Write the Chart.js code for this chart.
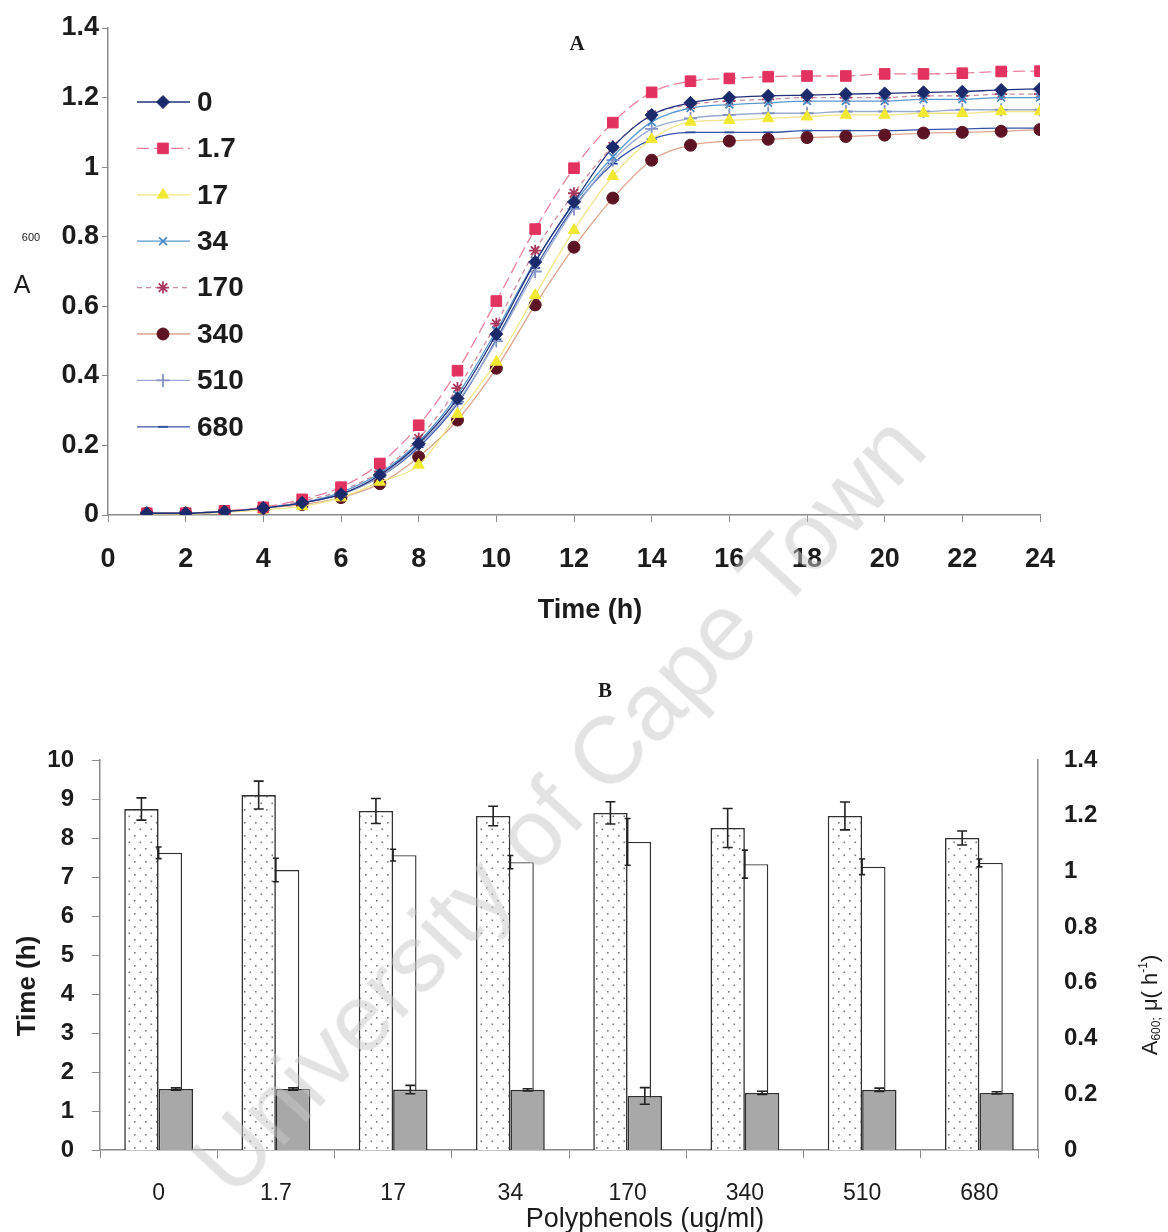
<!DOCTYPE html>
<html>
<head>
<meta charset="utf-8">
<script src="https://cdn.jsdelivr.net/npm/chart.js@4.4.1/dist/chart.umd.min.js"></script>
<style>
  html, body { margin: 0; padding: 0; background: #fff; }
  #wrap { position: relative; width: 1168px; height: 1232px; overflow: hidden; }
  #growth { position: absolute; left: 0; top: 0; }
  #params { position: absolute; left: 0; top: 650px; }
  #mark {
    position: absolute; left: 558px; top: 804px;
    transform: translate(-50%, -50%) rotate(-47deg);
    font: 95px "Liberation Sans", Arial, sans-serif;
    color: rgba(200, 200, 200, 0.5);
    white-space: nowrap; pointer-events: none;
  }
</style>
</head>
<body>
<div id="wrap">
  <canvas id="growth" width="1168" height="650" style="width:1168px;height:650px"></canvas>
  <canvas id="params" width="1168" height="582" style="width:1168px;height:582px"></canvas>
  <div id="mark">University of Cape Town</div>
</div>
<script>
// ---- growth curves (A600 per hour) ----
const hours = [1, 2, 3, 4, 5, 6, 7, 8, 9, 10, 11, 12, 13, 14, 15, 16, 17, 18, 19, 20, 21, 22, 23, 24];
const concentrations = ['0', '1.7', '17', '34', '170', '340', '510', '680'];

const od0   = [0.005, 0.005, 0.01, 0.02, 0.035, 0.06, 0.115, 0.205, 0.335, 0.52, 0.727, 0.90, 1.057, 1.15, 1.185, 1.20, 1.205, 1.207, 1.21, 1.212, 1.215, 1.217, 1.222, 1.225];
const od1_7 = [0.005, 0.005, 0.012, 0.022, 0.045, 0.08, 0.148, 0.258, 0.415, 0.615, 0.822, 0.997, 1.128, 1.215, 1.247, 1.255, 1.26, 1.262, 1.262, 1.268, 1.268, 1.27, 1.275, 1.276];
const od17  = [0.003, 0.003, 0.008, 0.015, 0.025, 0.05, 0.095, 0.144, 0.29, 0.44, 0.632, 0.819, 0.974, 1.08, 1.13, 1.135, 1.14, 1.145, 1.15, 1.15, 1.155, 1.155, 1.16, 1.16];
const od34  = [0.005, 0.005, 0.01, 0.02, 0.035, 0.065, 0.12, 0.21, 0.345, 0.53, 0.73, 0.895, 1.03, 1.13, 1.17, 1.18, 1.185, 1.19, 1.19, 1.19, 1.195, 1.195, 1.20, 1.20];
const od170 = [0.005, 0.005, 0.01, 0.02, 0.04, 0.07, 0.125, 0.22, 0.365, 0.55, 0.76, 0.925, 1.06, 1.15, 1.18, 1.19, 1.195, 1.20, 1.20, 1.20, 1.205, 1.205, 1.21, 1.21];
const od340 = [0.005, 0.005, 0.01, 0.02, 0.03, 0.05, 0.09, 0.167, 0.273, 0.422, 0.604, 0.77, 0.911, 1.02, 1.063, 1.075, 1.08, 1.085, 1.088, 1.092, 1.098, 1.10, 1.103, 1.108];
const od510 = [0.005, 0.005, 0.01, 0.02, 0.035, 0.06, 0.11, 0.20, 0.325, 0.50, 0.70, 0.88, 1.02, 1.11, 1.14, 1.15, 1.155, 1.155, 1.16, 1.16, 1.16, 1.165, 1.165, 1.165];
const od680 = [0.005, 0.005, 0.01, 0.02, 0.035, 0.06, 0.11, 0.195, 0.32, 0.505, 0.71, 0.885, 1.01, 1.08, 1.10, 1.10, 1.10, 1.105, 1.105, 1.105, 1.108, 1.11, 1.112, 1.112];
const odSeries = [od0, od1_7, od17, od34, od170, od340, od510, od680];

const timeTicks = [0, 2, 4, 6, 8, 10, 12, 14, 16, 18, 20, 22, 24];
const absTicks = [0, 0.2, 0.4, 0.6, 0.8, 1, 1.2, 1.4];

// ---- growth parameters per concentration ----
const peakOD       = [1.224, 1.274, 1.217, 1.199, 1.21, 1.156, 1.199, 1.12];
const peakODErr    = [0.04, 0.05, 0.045, 0.035, 0.04, 0.07, 0.05, 0.025];
const phaseTime    = [7.62, 7.18, 7.56, 7.38, 7.90, 7.33, 7.26, 7.36];
const phaseTimeErr = [0.15, 0.3, 0.15, 0.17, 0.6, 0.36, 0.2, 0.1];
const growthRate   = [0.219, 0.219, 0.217, 0.216, 0.194, 0.205, 0.216, 0.205];
const growthRateErr = [0.004, 0.004, 0.015, 0.004, 0.03, 0.006, 0.006, 0.004];

const hourTicks = [0, 1, 2, 3, 4, 5, 6, 7, 8, 9, 10];
const rateTicks = [0, 0.2, 0.4, 0.6, 0.8, 1, 1.2, 1.4];

const SANS = '"Liberation Sans", Arial, sans-serif';
const SERIF = '"Liberation Serif", "Times New Roman", serif';
const INK = '#1c1c1c';
const AXIS = '#8a8a8a';

// marker / line look of each curve
const curveStyles = [
  { line: '#22307a', mark: '#1b2a6b', shape: 'rectRot', r: 6.5 },
  { line: '#e7809c', mark: '#e2325f', shape: 'rect', r: 7.5, dash: [12, 5] },
  { line: '#efe68a', mark: '#f1e832', shape: 'triangle', r: 6.5 },
  { line: '#5d98cc', mark: '#4a8cc4', shape: 'crossRot', r: 5.5 },
  { line: '#c88aa2', mark: '#a8385c', shape: 'star', r: 6, dash: [5, 4] },
  { line: '#dca58d', mark: '#5c1424', shape: 'circle', r: 6 },
  { line: '#9aaad0', mark: '#8494c4', shape: 'cross', r: 6.5 },
  { line: '#3854a8', mark: '#2e4c9e', shape: 'line', r: 5 }
];

function fixedTicks(list) {
  return scale => { scale.ticks = list.map(v => ({ value: v })); };
}
const plainNum = v => String(Math.round(v * 10) / 10);

function text(ctx, str, x, y, font, align, rot) {
  ctx.save();
  ctx.translate(x, y);
  if (rot) ctx.rotate(rot);
  ctx.font = font;
  ctx.fillStyle = INK;
  ctx.textAlign = align || 'center';
  ctx.textBaseline = 'middle';
  ctx.fillText(str, 0, 0);
  ctx.restore();
}

// legend box sitting inside the plot, top left
const curveLegend = {
  id: 'curveLegend',
  afterDatasetsDraw(chart) {
    const ctx = chart.ctx;
    chart.data.datasets.forEach((ds, i) => {
      const y = 102 + i * 46.4;
      ctx.save();
      ctx.strokeStyle = ds.borderColor;
      ctx.lineWidth = ds.borderWidth;
      ctx.setLineDash(ds.borderDash || []);
      ctx.beginPath();
      ctx.moveTo(137, y);
      ctx.lineTo(190, y);
      ctx.stroke();
      ctx.setLineDash([]);
      ctx.fillStyle = ds.pointBackgroundColor;
      ctx.strokeStyle = ds.pointBorderColor;
      ctx.lineWidth = ds.pointBorderWidth;
      Chart.helpers.drawPoint(ctx, {
        pointStyle: ds.pointStyle, radius: ds.pointRadius, rotation: 0, borderWidth: ds.pointBorderWidth
      }, 163, y);
      ctx.restore();
      text(ctx, ds.label, 197, y + 1, 'bold 28px ' + SANS, 'left');
    });
  }
};

const growthTexts = {
  id: 'growthTexts',
  afterDraw(chart) {
    const ctx = chart.ctx;
    text(ctx, 'A', 577, 45, 'bold 21px ' + SERIF);
    text(ctx, 'A', 22, 286, '25px ' + SANS);
    text(ctx, '600', 31, 238, '11px ' + SANS);
    text(ctx, 'Time (h)', 590, 611, 'bold 27px ' + SANS);
  }
};

new Chart(document.getElementById('growth'), {
  type: 'line',
  data: {
    datasets: odSeries.map((vals, i) => {
      const st = curveStyles[i];
      const flat = ['cross', 'crossRot', 'star', 'line'].includes(st.shape);
      return {
        label: concentrations[i],
        data: vals.map((v, k) => ({ x: hours[k], y: v })),
        borderColor: st.line,
        borderWidth: 1.3,
        borderDash: st.dash || [],
        pointStyle: st.shape,
        pointRadius: st.r,
        pointBackgroundColor: st.mark,
        pointBorderColor: st.mark,
        pointBorderWidth: flat ? 1.8 : 1,
        cubicInterpolationMode: 'monotone',
        fill: false
      };
    })
  },
  options: {
    responsive: false,
    animation: false,
    layout: { padding: { top: 28, right: 128, left: 0, bottom: 0 } },
    plugins: { legend: { display: false }, tooltip: { enabled: false } },
    scales: {
      x: {
        type: 'linear', min: 0, max: 24,
        afterBuildTicks: fixedTicks(timeTicks),
        afterFit: s => { s.height = 135; },
        grid: { drawOnChartArea: false, tickLength: 7, color: AXIS },
        border: { color: AXIS, width: 1.5 },
        ticks: { padding: 21, color: INK, maxRotation: 0, autoSkip: false,
                 font: { family: SANS, size: 27, weight: 'bold' } }
      },
      y: {
        min: 0, max: 1.4,
        afterBuildTicks: fixedTicks(absTicks),
        afterFit: s => { s.width = 108; },
        grid: { drawOnChartArea: false, tickLength: 6, color: AXIS },
        border: { color: AXIS, width: 1.5 },
        ticks: { padding: 3, color: INK, callback: plainNum,
                 font: { family: SANS, size: 27, weight: 'bold' } }
      }
    }
  },
  plugins: [curveLegend, growthTexts]
});

// ---- bar chart ----
const paramsCtx = document.getElementById('params').getContext('2d');

function stipple() {
  const c = document.createElement('canvas');
  c.width = 11; c.height = 13;
  const g = c.getContext('2d');
  g.fillStyle = '#fff';
  g.fillRect(0, 0, 11, 13);
  g.fillStyle = '#7a7a7a';
  g.fillRect(2, 3, 1.6, 1.6);
  g.fillRect(7.5, 9.5, 1.6, 1.6);
  return paramsCtx.createPattern(c, 'repeat');
}

const errorBars = {
  id: 'errorBars',
  afterDatasetsDraw(chart) {
    const ctx = chart.ctx;
    chart.data.datasets.forEach((ds, i) => {
      if (!ds.errors) return;
      const meta = chart.getDatasetMeta(i);
      const scale = chart.scales[ds.yAxisID];
      meta.data.forEach((bar, j) => {
        const v = ds.data[j], e = ds.errors[j];
        const top = scale.getPixelForValue(v + e);
        const bot = scale.getPixelForValue(v - e);
        const x = bar.x, cap = ds.errCap;
        ctx.save();
        ctx.strokeStyle = '#222';
        ctx.lineWidth = 1.6;
        ctx.beginPath();
        ctx.moveTo(x, top); ctx.lineTo(x, bot);
        ctx.moveTo(x - cap, top); ctx.lineTo(x + cap, top);
        ctx.moveTo(x - cap, bot); ctx.lineTo(x + cap, bot);
        ctx.stroke();
        ctx.restore();
      });
    });
  }
};

const paramTexts = {
  id: 'paramTexts',
  afterDraw(chart) {
    const ctx = chart.ctx;
    text(ctx, 'B', 605, 42, 'bold 21px ' + SERIF);
    text(ctx, 'Time (h)', 28, 336, 'bold 26px ' + SANS, 'center', -Math.PI / 2);
    text(ctx, 'Polyphenols (ug/ml)', 645, 570, '27px ' + SANS);

    // right axis title: A600; μ(h-1), rotated
    const pieces = [
      { s: 'A', size: 22, dy: 0 },
      { s: '600;', size: 12, dy: 6 },
      { s: ' \u03bc( h', size: 22, dy: 0 },
      { s: '-1', size: 12, dy: -7 },
      { s: ')', size: 22, dy: 0 }
    ];
    ctx.save();
    ctx.translate(1151, 355);
    ctx.rotate(-Math.PI / 2);
    ctx.fillStyle = INK;
    ctx.textBaseline = 'middle';
    ctx.textAlign = 'left';
    let total = 0;
    pieces.forEach(p => { ctx.font = p.size + 'px ' + SANS; p.w = ctx.measureText(p.s).width; total += p.w; });
    let cx = -total / 2;
    pieces.forEach(p => { ctx.font = p.size + 'px ' + SANS; ctx.fillText(p.s, cx, p.dy); cx += p.w; });
    ctx.restore();
  }
};

// three slots per category: stippled A600 | time (wide, behind) | grey μ.
// the empty 'slot' set only reserves the middle position so the white
// time bar can be listed last and therefore painted first.
const SLOT = 0.44;
new Chart(paramsCtx, {
  type: 'bar',
  data: {
    labels: concentrations,
    datasets: [
      {
        label: 'A600',
        data: peakOD, errors: peakODErr, errCap: 5,
        yAxisID: 'y1', stack: 'od',
        backgroundColor: stipple(), borderColor: '#303030', borderWidth: 1.6,
        categoryPercentage: SLOT, barPercentage: 2.0
      },
      {
        label: 'slot',
        data: concentrations.map(() => null),
        yAxisID: 'y', stack: 'time',
        categoryPercentage: SLOT, barPercentage: 1
      },
      {
        label: '\u03bc',
        data: growthRate, errors: growthRateErr, errCap: 5,
        yAxisID: 'y1', stack: 'mu',
        backgroundColor: '#a8a8a8', borderColor: '#303030', borderWidth: 1.6,
        categoryPercentage: SLOT, barPercentage: 2.0
      },
      {
        label: 'Time',
        data: phaseTime, errors: phaseTimeErr, errCap: 3,
        yAxisID: 'y', stack: 'time',
        backgroundColor: '#ffffff', borderColor: '#303030', borderWidth: 1.4,
        categoryPercentage: SLOT, barPercentage: 2.72
      }
    ]
  },
  options: {
    responsive: false,
    animation: false,
    layout: { padding: { top: 110, right: 0, left: 0, bottom: 0 } },
    plugins: { legend: { display: false }, tooltip: { enabled: false } },
    scales: {
      x: {
        type: 'category', offset: true,
        afterFit: s => { s.height = 82; },
        grid: { offset: true, drawOnChartArea: false, tickLength: 8, color: AXIS },
        border: { color: AXIS, width: 1.5 },
        ticks: { padding: 22, color: INK, font: { family: SANS, size: 23 } }
      },
      y: {
        position: 'left', min: 0, max: 10, stacked: false,
        afterBuildTicks: fixedTicks(hourTicks),
        afterFit: s => { s.width = 100; },
        grid: { drawOnChartArea: false, tickLength: 8, color: AXIS },
        border: { color: AXIS, width: 1.5 },
        ticks: { padding: 18, color: INK, font: { family: SANS, size: 24, weight: 'bold' } }
      },
      y1: {
        position: 'right', min: 0, max: 1.4, stacked: false,
        afterBuildTicks: fixedTicks(rateTicks),
        afterFit: s => { s.width = 130; },
        grid: { display: false, drawTicks: false },
        border: { display: true, color: AXIS, width: 1.5 },
        ticks: { padding: 26, color: INK, callback: plainNum,
                 font: { family: SANS, size: 24, weight: 'bold' } }
      }
    }
  },
  plugins: [errorBars, paramTexts]
});
</script>
</body>
</html>
